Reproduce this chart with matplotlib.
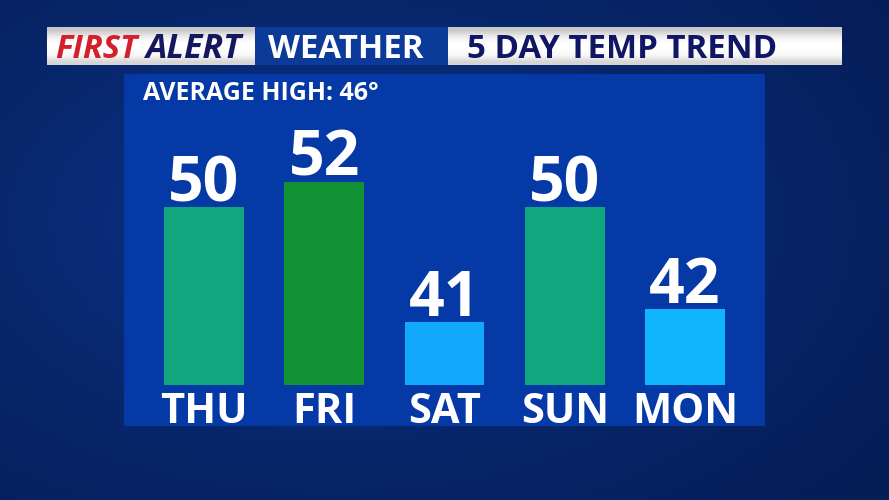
import numpy as np
import matplotlib
matplotlib.use("Agg")
import matplotlib.pyplot as plt
from matplotlib.colors import LinearSegmentedColormap

# ---- data ----
days = ["THU", "FRI", "SAT", "SUN", "MON"]
highs = [50, 52, 41, 50, 42]
bar_colors = ["#10a77e", "#109133", "#11a9fc", "#10a77e", "#0fb6fd"]
average_high = 46
title_left_red = "FIRST"
title_left_navy = "ALERT"
title_mid = "WEATHER"
title_right = "5 DAY TEMP TREND"

FONT = "Open Sans"
W, H = 889, 500

fig = plt.figure(figsize=(W / 100, H / 100), dpi=100)

# ---- background (pixel coordinates) ----
bg = fig.add_axes([0, 0, 1, 1])
bg.set_xlim(0, W)
bg.set_ylim(H, 0)
bg.axis("off")
yy, xx = np.mgrid[0:H, 0:W]
r = np.sqrt(((xx - 330) / 700.0) ** 2 + ((yy - 220) / 420.0) ** 2)
r = np.clip(r, 0, 1)
bg_cmap = LinearSegmentedColormap.from_list("bg", ["#0b3290", "#08276c", "#061d56"])
bg.imshow(r, cmap=bg_cmap, extent=(0, W, H, 0), aspect="auto", zorder=0)

# header segments
white_grad = np.array([[0.80], [0.93], [1.0], [1.0], [0.97], [0.85]])
grey_cmap = LinearSegmentedColormap.from_list("g", ["#c8c8c8", "#ffffff"])
hdr_top, hdr_bot = 27, 65
bg.imshow(white_grad, cmap=grey_cmap, vmin=0.8, vmax=1.0,
          extent=(47, 255, hdr_bot, hdr_top), aspect="auto", zorder=1, interpolation="bilinear")
bg.imshow(white_grad, cmap=grey_cmap, vmin=0.8, vmax=1.0,
          extent=(448, 842, hdr_bot, hdr_top), aspect="auto", zorder=1, interpolation="bilinear")
bg.add_patch(plt.Rectangle((255, hdr_top), 448 - 255, hdr_bot - hdr_top,
                           facecolor="#0b3a98", edgecolor="none", zorder=1))
bg.set_xlim(0, W)
bg.set_ylim(H, 0)

base_y = 57.5
bg.text(55, base_y, title_left_red, color="#d41f2c", fontsize=23.5, family=FONT,
        weight="bold", style="italic", va="baseline", ha="left", zorder=3)
bg.text(145, base_y, title_left_navy, color="#15185f", fontsize=24.5, family=FONT,
        weight="bold", style="italic", va="baseline", ha="left", zorder=3)
bg.text(268, base_y, title_mid, color="white", fontsize=23.8, family=FONT,
        weight="bold", va="baseline", ha="left", zorder=3)
bg.text(467, base_y, title_right, color="#101663", fontsize=23.8, family=FONT,
        weight="bold", va="baseline", ha="left", zorder=3)

# ---- chart panel ----
px_per_deg = 12.73
base = 36.05
ax_h = 352
ylo = base - 41 / px_per_deg
yhi = ylo + ax_h / px_per_deg
ax = fig.add_axes([124 / W, (H - 426) / H, 641 / W, ax_h / H])
ax.set_facecolor("#0539a6")
for s in ax.spines.values():
    s.set_visible(False)
ax.set_xticks([])
ax.set_yticks([])
x = np.arange(len(days))
ax.bar(x, [h - base for h in highs], bottom=base, width=0.665,
       color=bar_colors, edgecolor="none", zorder=2)
ax.set_xlim(-0.665, 4.665)
ax.set_ylim(ylo, yhi)

for xi, v in zip(x, highs):
    ax.annotate(str(v), (xi, v), xytext=(0, 4.3), textcoords="offset points",
                ha="center", va="baseline", color="white", fontsize=45,
                family=FONT, weight="bold", zorder=3)

for xi, d in zip(x, days):
    ax.text(xi, 3 / ax_h, d, transform=ax.get_xaxis_transform(), ha="center",
            va="baseline", color="white", fontsize=30, family=FONT, weight="bold")

ax.text(19 / 641, 1 - 26 / ax_h, f"AVERAGE HIGH: {average_high}°", transform=ax.transAxes,
        ha="left", va="baseline", color="white", fontsize=18, family=FONT, weight="bold")

fig.savefig("out.png", dpi=100, facecolor=fig.get_facecolor())
